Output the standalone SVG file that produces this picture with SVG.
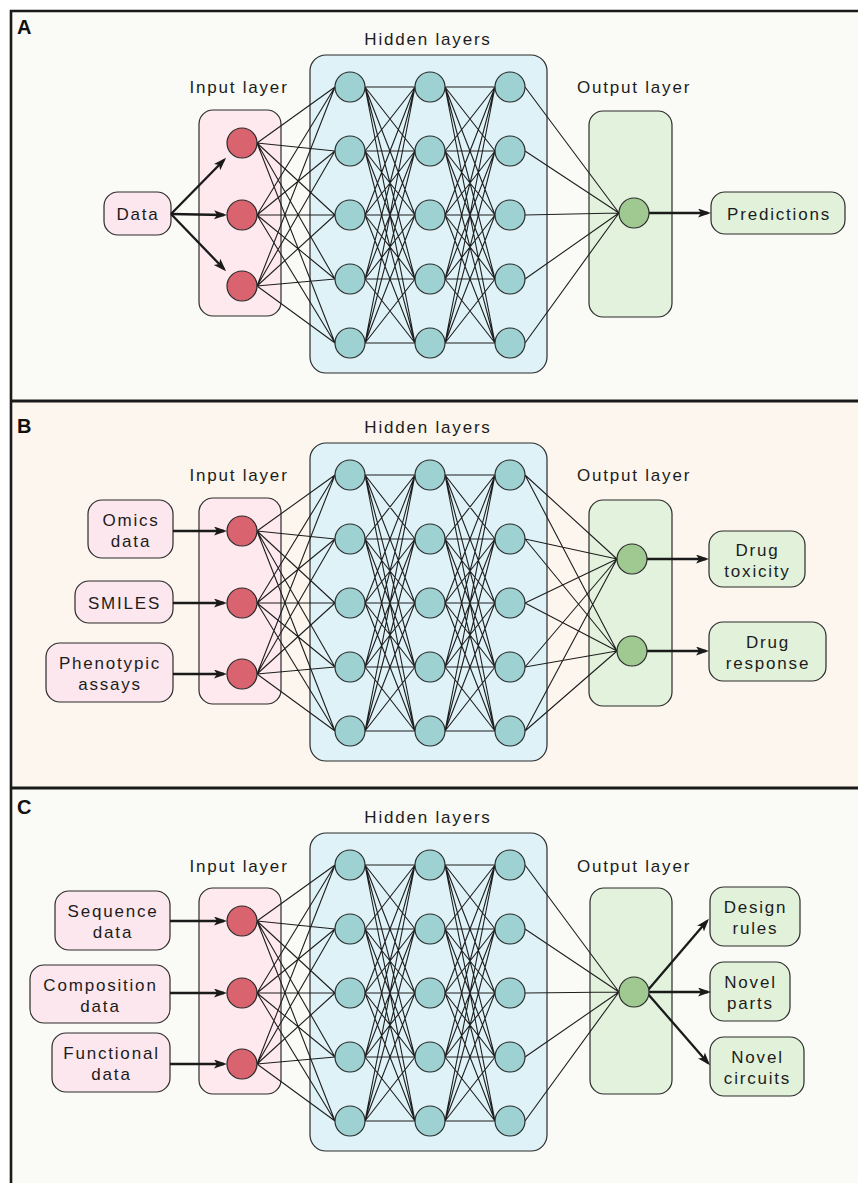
<svg xmlns="http://www.w3.org/2000/svg" width="858" height="1183" viewBox="0 0 858 1183">
<defs>
<style>
text{font-family:"Liberation Sans",Arial,sans-serif;font-size:17px;fill:#1c1c1c;letter-spacing:1.8px;text-anchor:middle}
.plabel{font-weight:bold;font-size:20px;letter-spacing:0;text-anchor:start;fill:#111}
.inbox{fill:#fde9ee;stroke:#2b2b2b;stroke-width:1.2}
.hidbox{fill:#dff2f7;stroke:#2b2b2b;stroke-width:1.2}
.outbox{fill:#e2f2dc;stroke:#2b2b2b;stroke-width:1.2}
.pink{fill:#fde7ee;stroke:#2b2b2b;stroke-width:1.2}
.green{fill:#e2f2da;stroke:#2b2b2b;stroke-width:1.2}
.inode{fill:#d9636f;stroke:#2b2b2b;stroke-width:1.2}
.hnode{fill:#9ed2d2;stroke:#2b2b2b;stroke-width:1.2}
.onode{fill:#a0c992;stroke:#2b2b2b;stroke-width:1.2}
.mesh{fill:none;stroke:#1e1e1e;stroke-width:1.1}
.arrow{fill:none;stroke:#1a1a1a;stroke-width:2.3;marker-end:url(#ah)}
</style>
<marker id="ah" markerUnits="userSpaceOnUse" markerWidth="13" markerHeight="10" refX="10" refY="4.5" orient="auto">
<path d="M0,0 L13,4.5 L0,9 L3,4.5 z" fill="#1a1a1a"/>
</marker>
</defs>

<!-- panel backgrounds -->
<g id="panels">
<rect x="11" y="11" width="850" height="390" fill="#fafaf6"/>
<rect x="11" y="401" width="850" height="387" fill="#fcf6ee"/>
<rect x="11" y="788" width="850" height="400" fill="#fafaf6"/>
<path d="M11,1190 L11,11 L862,11" fill="none" stroke="#1a1a1a" stroke-width="2.6"/>
<line x1="11" y1="401" x2="862" y2="401" stroke="#1a1a1a" stroke-width="3"/>
<line x1="11" y1="788" x2="862" y2="788" stroke="#1a1a1a" stroke-width="3"/>
<text class="plabel" x="17" y="34">A</text>
<text class="plabel" x="17" y="433">B</text>
<text class="plabel" x="17" y="814">C</text>
</g>

<!-- ================= PANEL A ================= -->
<g id="A-titles">
<text x="428" y="45">Hidden layers</text>
<text x="239" y="93">Input layer</text>
<text x="634" y="93">Output layer</text>
</g>
<g id="A-input-layer"><rect class="inbox" x="199" y="110" width="82" height="206" rx="14"/></g>
<g id="A-hidden-layers"><rect class="hidbox" x="310" y="55" width="237" height="318" rx="16"/></g>
<g id="A-output-layer"><rect class="outbox" x="589" y="111" width="83" height="206" rx="14"/></g>
<g id="A-data"><rect class="pink" x="104" y="192" width="67" height="43" rx="14"/><text x="138" y="220">Data</text></g>
<g id="A-predictions"><rect class="green" x="711" y="192" width="134" height="42" rx="14"/><text x="779" y="219.5">Predictions</text></g>

<g id="A-connectors">
<path class="mesh" d="M257 143L335 87M257 143L335 151M257 143L335 215M257 143L335 279M257 143L335 343M257 215L335 87M257 215L335 151M257 215L335 215M257 215L335 279M257 215L335 343M257 286L335 87M257 286L335 151M257 286L335 215M257 286L335 279M257 286L335 343"/>
<path class="mesh" d="M365 87L415 87M365 87L415 151M365 87L415 215M365 87L415 279M365 87L415 343M365 151L415 87M365 151L415 151M365 151L415 215M365 151L415 279M365 151L415 343M365 215L415 87M365 215L415 151M365 215L415 215M365 215L415 279M365 215L415 343M365 279L415 87M365 279L415 151M365 279L415 215M365 279L415 279M365 279L415 343M365 343L415 87M365 343L415 151M365 343L415 215M365 343L415 279M365 343L415 343"/>
<path class="mesh" d="M445 87L495 87M445 87L495 151M445 87L495 215M445 87L495 279M445 87L495 343M445 151L495 87M445 151L495 151M445 151L495 215M445 151L495 279M445 151L495 343M445 215L495 87M445 215L495 151M445 215L495 215M445 215L495 279M445 215L495 343M445 279L495 87M445 279L495 151M445 279L495 215M445 279L495 279M445 279L495 343M445 343L495 87M445 343L495 151M445 343L495 215M445 343L495 279M445 343L495 343"/>
<path class="mesh" d="M525 87L619 213M525 151L619 213M525 215L619 213M525 279L619 213M525 343L619 213"/>
<line class="arrow" x1="171" y1="214" x2="224" y2="160"/>
<line class="arrow" x1="171" y1="214" x2="224" y2="215"/>
<line class="arrow" x1="171" y1="214" x2="224" y2="269"/>
<line class="arrow" x1="649" y1="213" x2="708" y2="213"/>
</g>

<g id="A-nodes">
<circle class="inode" cx="242" cy="143" r="15"/><circle class="inode" cx="242" cy="215" r="15"/><circle class="inode" cx="242" cy="286" r="15"/>
<circle class="hnode" cx="350" cy="87" r="15"/><circle class="hnode" cx="350" cy="151" r="15"/><circle class="hnode" cx="350" cy="215" r="15"/><circle class="hnode" cx="350" cy="279" r="15"/><circle class="hnode" cx="350" cy="343" r="15"/>
<circle class="hnode" cx="430" cy="87" r="15"/><circle class="hnode" cx="430" cy="151" r="15"/><circle class="hnode" cx="430" cy="215" r="15"/><circle class="hnode" cx="430" cy="279" r="15"/><circle class="hnode" cx="430" cy="343" r="15"/>
<circle class="hnode" cx="510" cy="87" r="15"/><circle class="hnode" cx="510" cy="151" r="15"/><circle class="hnode" cx="510" cy="215" r="15"/><circle class="hnode" cx="510" cy="279" r="15"/><circle class="hnode" cx="510" cy="343" r="15"/>
<circle class="onode" cx="634" cy="213" r="15"/>
</g>

<!-- ================= PANEL B ================= -->
<g id="B-titles">
<text x="428" y="433">Hidden layers</text>
<text x="239" y="481">Input layer</text>
<text x="634" y="481">Output layer</text>
</g>
<g id="B-input-layer"><rect class="inbox" x="199" y="498" width="82" height="206" rx="14"/></g>
<g id="B-hidden-layers"><rect class="hidbox" x="310" y="443" width="237" height="318" rx="16"/></g>
<g id="B-output-layer"><rect class="outbox" x="589" y="500" width="83" height="206" rx="14"/></g>
<g id="B-omics"><rect class="pink" x="88" y="500" width="85" height="58" rx="14"/><text x="131" y="525.5">Omics</text><text x="131" y="546.5">data</text></g>
<g id="B-smiles"><rect class="pink" x="75" y="581" width="98" height="42" rx="14"/><text x="124.5" y="608.5">SMILES</text></g>
<g id="B-phenotypic"><rect class="pink" x="46" y="643" width="127" height="59" rx="14"/><text x="110" y="669">Phenotypic</text><text x="110" y="690">assays</text></g>
<g id="B-toxicity"><rect class="green" x="709" y="531" width="96" height="56" rx="14"/><text x="757.5" y="555.5">Drug</text><text x="757.5" y="576.5">toxicity</text></g>
<g id="B-response"><rect class="green" x="709" y="622" width="117" height="59" rx="14"/><text x="768" y="648">Drug</text><text x="768" y="669">response</text></g>

<g id="B-connectors">
<path class="mesh" d="M257 531L335 475M257 531L335 539M257 531L335 603M257 531L335 667M257 531L335 731M257 603L335 475M257 603L335 539M257 603L335 603M257 603L335 667M257 603L335 731M257 674L335 475M257 674L335 539M257 674L335 603M257 674L335 667M257 674L335 731"/>
<path class="mesh" d="M365 475L415 475M365 475L415 539M365 475L415 603M365 475L415 667M365 475L415 731M365 539L415 475M365 539L415 539M365 539L415 603M365 539L415 667M365 539L415 731M365 603L415 475M365 603L415 539M365 603L415 603M365 603L415 667M365 603L415 731M365 667L415 475M365 667L415 539M365 667L415 603M365 667L415 667M365 667L415 731M365 731L415 475M365 731L415 539M365 731L415 603M365 731L415 667M365 731L415 731"/>
<path class="mesh" d="M445 475L495 475M445 475L495 539M445 475L495 603M445 475L495 667M445 475L495 731M445 539L495 475M445 539L495 539M445 539L495 603M445 539L495 667M445 539L495 731M445 603L495 475M445 603L495 539M445 603L495 603M445 603L495 667M445 603L495 731M445 667L495 475M445 667L495 539M445 667L495 603M445 667L495 667M445 667L495 731M445 731L495 475M445 731L495 539M445 731L495 603M445 731L495 667M445 731L495 731"/>
<path class="mesh" d="M525 475L617 559M525 539L617 559M525 603L617 559M525 667L617 559M525 731L617 559M525 475L617 651M525 539L617 651M525 603L617 651M525 667L617 651M525 731L617 651"/>
<line class="arrow" x1="173" y1="531" x2="224" y2="531"/>
<line class="arrow" x1="173" y1="603" x2="224" y2="603"/>
<line class="arrow" x1="173" y1="674" x2="224" y2="674"/>
<line class="arrow" x1="647" y1="559" x2="706" y2="559"/>
<line class="arrow" x1="647" y1="651" x2="706" y2="651"/>
</g>

<g id="B-nodes">
<circle class="inode" cx="242" cy="531" r="15"/><circle class="inode" cx="242" cy="603" r="15"/><circle class="inode" cx="242" cy="674" r="15"/>
<circle class="hnode" cx="350" cy="475" r="15"/><circle class="hnode" cx="350" cy="539" r="15"/><circle class="hnode" cx="350" cy="603" r="15"/><circle class="hnode" cx="350" cy="667" r="15"/><circle class="hnode" cx="350" cy="731" r="15"/>
<circle class="hnode" cx="430" cy="475" r="15"/><circle class="hnode" cx="430" cy="539" r="15"/><circle class="hnode" cx="430" cy="603" r="15"/><circle class="hnode" cx="430" cy="667" r="15"/><circle class="hnode" cx="430" cy="731" r="15"/>
<circle class="hnode" cx="510" cy="475" r="15"/><circle class="hnode" cx="510" cy="539" r="15"/><circle class="hnode" cx="510" cy="603" r="15"/><circle class="hnode" cx="510" cy="667" r="15"/><circle class="hnode" cx="510" cy="731" r="15"/>
<circle class="onode" cx="632" cy="559" r="15"/><circle class="onode" cx="632" cy="651" r="15"/>
</g>

<!-- ================= PANEL C ================= -->
<g id="C-titles">
<text x="428" y="823">Hidden layers</text>
<text x="239" y="872">Input layer</text>
<text x="634" y="872">Output layer</text>
</g>
<g id="C-input-layer"><rect class="inbox" x="199" y="888" width="82" height="206" rx="14"/></g>
<g id="C-hidden-layers"><rect class="hidbox" x="310" y="833" width="237" height="318" rx="16"/></g>
<g id="C-output-layer"><rect class="outbox" x="590" y="888" width="82" height="206" rx="14"/></g>
<g id="C-sequence"><rect class="pink" x="55" y="891" width="115" height="59" rx="14"/><text x="113" y="917">Sequence</text><text x="113" y="938">data</text></g>
<g id="C-composition"><rect class="pink" x="30" y="965" width="140" height="58" rx="14"/><text x="100.5" y="990.5">Composition</text><text x="100.5" y="1011.5">data</text></g>
<g id="C-functional"><rect class="pink" x="52" y="1033" width="118" height="59" rx="14"/><text x="111.5" y="1059">Functional</text><text x="111.5" y="1080">data</text></g>
<g id="C-design"><rect class="green" x="710" y="887" width="90" height="59" rx="14"/><text x="755.5" y="913">Design</text><text x="755.5" y="934">rules</text></g>
<g id="C-parts"><rect class="green" x="710" y="962" width="80" height="59" rx="14"/><text x="750.5" y="988">Novel</text><text x="750.5" y="1009">parts</text></g>
<g id="C-circuits"><rect class="green" x="710" y="1037" width="94" height="59" rx="14"/><text x="757.5" y="1063">Novel</text><text x="757.5" y="1084">circuits</text></g>

<g id="C-connectors">
<path class="mesh" d="M257 921L335 865M257 921L335 929M257 921L335 993M257 921L335 1057M257 921L335 1121M257 993L335 865M257 993L335 929M257 993L335 993M257 993L335 1057M257 993L335 1121M257 1064L335 865M257 1064L335 929M257 1064L335 993M257 1064L335 1057M257 1064L335 1121"/>
<path class="mesh" d="M365 865L415 865M365 865L415 929M365 865L415 993M365 865L415 1057M365 865L415 1121M365 929L415 865M365 929L415 929M365 929L415 993M365 929L415 1057M365 929L415 1121M365 993L415 865M365 993L415 929M365 993L415 993M365 993L415 1057M365 993L415 1121M365 1057L415 865M365 1057L415 929M365 1057L415 993M365 1057L415 1057M365 1057L415 1121M365 1121L415 865M365 1121L415 929M365 1121L415 993M365 1121L415 1057M365 1121L415 1121"/>
<path class="mesh" d="M445 865L495 865M445 865L495 929M445 865L495 993M445 865L495 1057M445 865L495 1121M445 929L495 865M445 929L495 929M445 929L495 993M445 929L495 1057M445 929L495 1121M445 993L495 865M445 993L495 929M445 993L495 993M445 993L495 1057M445 993L495 1121M445 1057L495 865M445 1057L495 929M445 1057L495 993M445 1057L495 1057M445 1057L495 1121M445 1121L495 865M445 1121L495 929M445 1121L495 993M445 1121L495 1057M445 1121L495 1121"/>
<path class="mesh" d="M525 865L619 992M525 929L619 992M525 993L619 992M525 1057L619 992M525 1121L619 992"/>
<line class="arrow" x1="170" y1="921" x2="224" y2="921"/>
<line class="arrow" x1="170" y1="993" x2="224" y2="993"/>
<line class="arrow" x1="170" y1="1064" x2="224" y2="1064"/>
<line class="arrow" x1="648" y1="990" x2="707" y2="921"/>
<line class="arrow" x1="649" y1="992" x2="708" y2="992"/>
<line class="arrow" x1="648" y1="994" x2="708" y2="1063"/>
</g>

<g id="C-nodes">
<circle class="inode" cx="242" cy="921" r="15"/><circle class="inode" cx="242" cy="993" r="15"/><circle class="inode" cx="242" cy="1064" r="15"/>
<circle class="hnode" cx="350" cy="865" r="15"/><circle class="hnode" cx="350" cy="929" r="15"/><circle class="hnode" cx="350" cy="993" r="15"/><circle class="hnode" cx="350" cy="1057" r="15"/><circle class="hnode" cx="350" cy="1121" r="15"/>
<circle class="hnode" cx="430" cy="865" r="15"/><circle class="hnode" cx="430" cy="929" r="15"/><circle class="hnode" cx="430" cy="993" r="15"/><circle class="hnode" cx="430" cy="1057" r="15"/><circle class="hnode" cx="430" cy="1121" r="15"/>
<circle class="hnode" cx="510" cy="865" r="15"/><circle class="hnode" cx="510" cy="929" r="15"/><circle class="hnode" cx="510" cy="993" r="15"/><circle class="hnode" cx="510" cy="1057" r="15"/><circle class="hnode" cx="510" cy="1121" r="15"/>
<circle class="onode" cx="634" cy="992" r="15"/>
</g>
</svg>
